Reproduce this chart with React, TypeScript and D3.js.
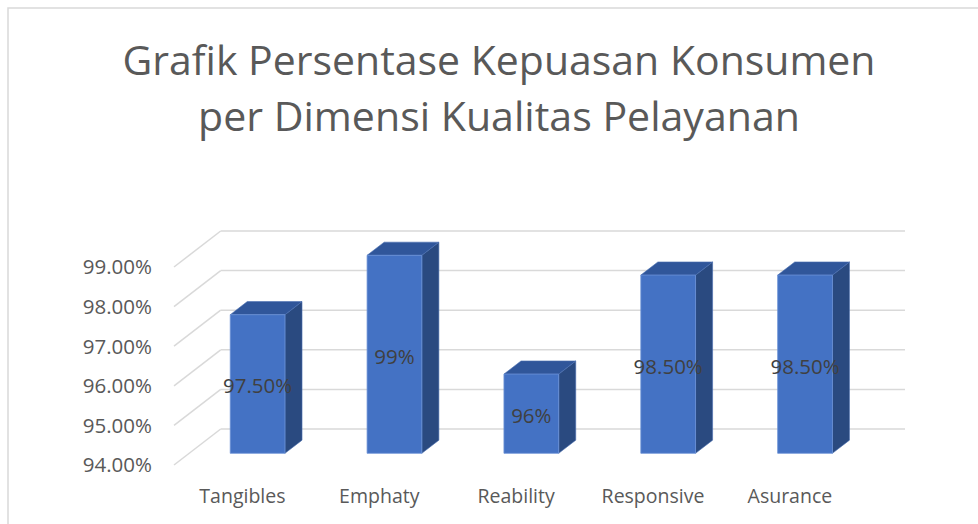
import React from "react";
import * as d3 from "d3";

const categories = ["Tangibles", "Emphaty", "Reability", "Responsive", "Asurance"];
const values = [97.5, 99, 96, 98.5, 98.5];
const dataLabels = ["97.50%", "99%", "96%", "98.50%", "98.50%"];
const yTicks = [94, 95, 96, 97, 98, 99];
const titleLines = ["Grafik Persentase Kepuasan Konsumen", "per Dimensi Kualitas Pelayanan"];

const W = 978;
const H = 524;
const FONT = "'Open Sans', 'Noto Sans', sans-serif";

export default function App() {
  const frontLeft = 174;
  const depthX = 46.7;
  const depthY = -36;
  const backRight = 905;
  const f0 = 0.325;
  const f1 = 0.69;

  const y = d3.scaleLinear().domain([94, 99]).range([465, 267]);
  const x = d3
    .scaleBand<string>()
    .domain(categories)
    .range([frontLeft, backRight - depthX])
    .paddingInner(0.6)
    .paddingOuter(0.3);
  const labelX = d3
    .scaleBand<string>()
    .domain(categories)
    .range([frontLeft, backRight - depthX]);

  const ox = f0 * depthX;
  const oy = f0 * depthY;
  const dx = (f1 - f0) * depthX;
  const dy = (f1 - f0) * depthY;
  const bw = x.bandwidth();
  const base = y(94) + oy;

  return (
    <svg
      width={W}
      height={H}
      style={{ position: "absolute", left: 0, top: 0, background: "#fff" }}
    >
      <rect x={0} y={0} width={W} height={H} fill="#fff" />
      <rect x={8} y={8} width={1200} height={1200} fill="none" stroke="#D9D9D9" strokeWidth={1.5} />

      {titleLines.map((t, i) => (
        <text
          key={t}
          x={499}
          y={75 + i * 56}
          textAnchor="middle"
          fontFamily={FONT}
          fontSize={41}
          fill="#595959"
          textLength={i === 0 ? 753 : 602}
          lengthAdjust="spacingAndGlyphs"
        >
          {t}
        </text>
      ))}

      {yTicks.map((t) => (
        <g key={t}>
          <line
            x1={frontLeft}
            y1={y(t)}
            x2={frontLeft + depthX}
            y2={y(t) + depthY}
            stroke="#D9D9D9"
            strokeWidth={1.5}
          />
          <line
            x1={frontLeft + depthX}
            y1={y(t) + depthY}
            x2={backRight}
            y2={y(t) + depthY}
            stroke="#D9D9D9"
            strokeWidth={1.5}
          />
          <text
            x={152}
            y={y(t)}
            dy="0.36em"
            textAnchor="end"
            fontFamily={FONT}
            fontSize={20.5}
            fill="#595959"
          >
            {t.toFixed(2) + "%"}
          </text>
        </g>
      ))}

      {categories.map((c, i) => {
        const fx = (x(c) as number) + ox;
        const top = y(values[i]) + oy;
        const frontPts = [
          [fx, top],
          [fx + bw, top],
          [fx + bw, base],
          [fx, base],
        ];
        const topPts = [
          [fx, top],
          [fx + bw, top],
          [fx + bw + dx, top + dy],
          [fx + dx, top + dy],
        ];
        const sidePts = [
          [fx + bw, top],
          [fx + bw + dx, top + dy],
          [fx + bw + dx, base + dy],
          [fx + bw, base],
        ];
        const toStr = (p: number[][]) => p.map((q) => q.join(",")).join(" ");
        return (
          <g key={c}>
            <polygon points={toStr(sidePts)} fill="#2A4A80" stroke="#4A6FB0" strokeWidth={0.6} />
            <polygon points={toStr(topPts)} fill="#30569A" stroke="#4A6FB0" strokeWidth={0.6} />
            <polygon points={toStr(frontPts)} fill="#4472C4" stroke="#6A90D6" strokeWidth={0.8} />
            <text
              x={fx + bw / 2}
              y={(top + base) / 2 + 2}
              dy="0.36em"
              textAnchor="middle"
              fontFamily={FONT}
              fontSize={20.5}
              fill="#404040"
            >
              {dataLabels[i]}
            </text>
          </g>
        );
      })}

      {categories.map((c) => (
        <text
          key={c + "-lbl"}
          x={(labelX(c) as number) + labelX.bandwidth() / 2}
          y={503}
          textAnchor="middle"
          fontFamily={FONT}
          fontSize={19.5}
          fill="#595959"
        >
          {c}
        </text>
      ))}
    </svg>
  );
}
